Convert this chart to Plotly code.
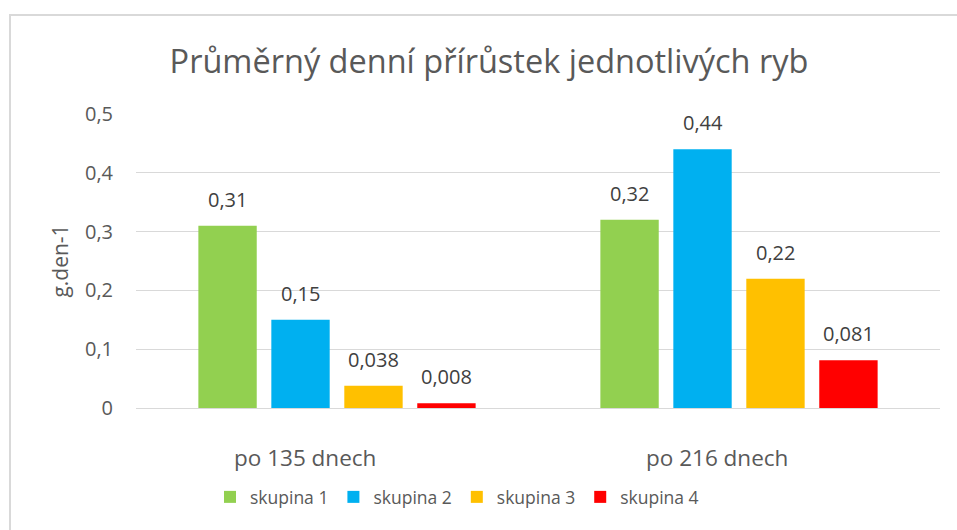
import plotly.graph_objects as go

categories = ["po 135 dnech", "po 216 dnech"]
series_names = ["skupina 1", "skupina 2", "skupina 3", "skupina 4"]
values_s1 = [0.31, 0.32]
values_s2 = [0.15, 0.44]
values_s3 = [0.038, 0.22]
values_s4 = [0.008, 0.081]
label_s1 = ["0,31", "0,32"]
label_s2 = ["0,15", "0,44"]
label_s3 = ["0,038", "0,22"]
label_s4 = ["0,008", "0,081"]
y_ticks = [0, 0.1, 0.2, 0.3, 0.4, 0.5]
y_ticklabels = ["0", "0,1", "0,2", "0,3", "0,4", "0,5"]

colors = ["#92D050", "#00B0F0", "#FFC000", "#FF0000"]
all_values = [values_s1, values_s2, values_s3, values_s4]
all_labels = [label_s1, label_s2, label_s3, label_s4]

FONT = "Open Sans"
TXT = "#595959"
BARGAP = 0.274
NSER = len(series_names)
slot = (1 - BARGAP) / NSER

fig = go.Figure()
for i, (name, vals) in enumerate(zip(series_names, all_values)):
    fig.add_trace(go.Bar(
        x=categories, y=vals, name=name,
        marker=dict(color=colors[i], line=dict(width=0)),
    ))

# data labels above bars
for i, (vals, labs) in enumerate(zip(all_values, all_labels)):
    for ci, (v, lab) in enumerate(zip(vals, labs)):
        fig.add_annotation(x=ci + (i - (NSER - 1) / 2) * slot, y=v, xref="x", yref="y",
                           text=lab, showarrow=False, yanchor="bottom", yshift=11,
                           font=dict(family=FONT, size=20, color="#404040"))

fig.update_layout(
    width=957, height=530,
    paper_bgcolor="white", plot_bgcolor="white",
    margin=dict(l=136, r=17, t=114, b=122),
    barmode="group", bargap=BARGAP, bargroupgap=0.2,
    title=dict(text="Průměrný denní přírůstek jednotlivých ryb",
               x=489 / 957, xanchor="center", y=1 - 62 / 530, yanchor="middle",
               font=dict(family=FONT, size=32.5, color=TXT)),
    font=dict(family=FONT, color=TXT),
    showlegend=True,
    legend=dict(orientation="h", xref="container", yref="container",
                x=457 / 957, xanchor="center", y=1 - 497 / 530, yanchor="middle",
                font=dict(family=FONT, size=17.5, color=TXT),
                itemwidth=30, traceorder="normal"),
    xaxis=dict(showgrid=False, showline=False, ticks="", showticklabels=False),
    yaxis=dict(range=[0, 0.5], tickvals=y_ticks, ticktext=y_ticklabels,
               showgrid=True, gridcolor="#d9d9d9", gridwidth=1,
               zeroline=True, zerolinecolor="#d9d9d9", zerolinewidth=1,
               showline=False, ticks="", ticklen=0, ticklabelstandoff=22,
               tickfont=dict(family=FONT, size=20, color=TXT),
               title=dict(text="g.den-1", font=dict(family=FONT, size=21, color=TXT),
                          standoff=10)),
)

# category labels (Excel places them slightly left of group centre)
shifts = [-32, -22]
for ci, (cat, sh) in enumerate(zip(categories, shifts)):
    fig.add_annotation(x=ci, y=0, yref="y", xref="x", text=cat, showarrow=False,
                       yshift=-49, xshift=sh, yanchor="middle",
                       font=dict(family=FONT, size=22.5, color=TXT))

# chart border
fig.add_shape(type="rect", xref="paper", yref="paper",
              x0=(10 - 136) / 804, x1=(965 - 136) / 804,
              y0=(408 - 540) / 294, y1=(408 - 15) / 294,
              line=dict(color="#d9d9d9", width=2), layer="below")

fig.write_html("out.html", config={"displayModeBar": False},
               post_script="document.body.style.margin='0';document.body.style.overflow='hidden';")
